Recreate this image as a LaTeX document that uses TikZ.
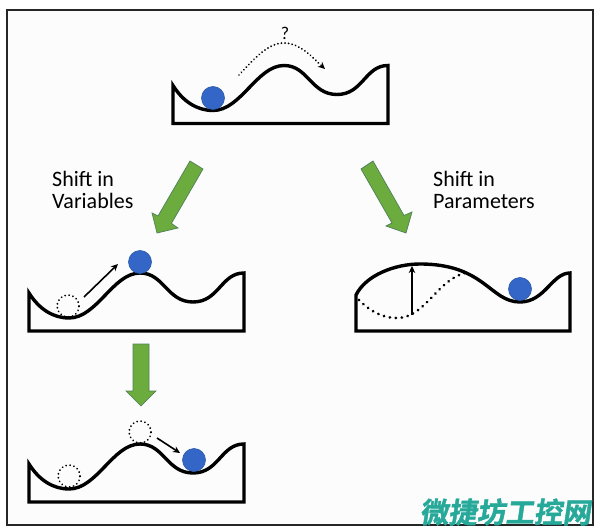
\documentclass[tikz,border=0pt]{standalone}
\usepackage{fontspec}
\setmainfont{Carlito}
\newfontfamily\cjkwm[FakeBold=1.5]{Noto Sans CJK SC Bold}
\usetikzlibrary{arrows.meta}
\definecolor{ballblue}{HTML}{3366C6}
\definecolor{balledge}{HTML}{2B5AA8}
\definecolor{arrowgreen}{HTML}{6CAC3E}
\definecolor{arrowedge}{HTML}{4F8058}
\definecolor{wmteal}{HTML}{27A99A}
\tikzset{
  x=1pt,y=-1pt,
  terrain/.style={draw=black,line width=3.4pt,line join=miter,fill=none},
  ballfull/.style={circle,draw=balledge,line width=0.6pt,fill=ballblue,minimum size=23pt,inner sep=0pt},
  ballghost/.style={circle,draw=black,line width=2pt,line cap=round,dash pattern=on 0.01pt off 4pt,fill=none,minimum size=22pt,inner sep=0pt},
  bigarrow/.style={draw=arrowedge,line width=0.7pt,fill=arrowgreen,line join=miter},
  thinarrow/.style={draw=black,line width=1.6pt,-{Stealth[length=7pt,width=6.5pt]}},
  dotline/.style={draw=black,line width=3pt,line cap=round,dash pattern=on 0.01pt off 6pt},
  dotarrow/.style={draw=black,line width=2pt,line cap=round,dash pattern=on 0.01pt off 3.6pt,-{Stealth[length=7pt,width=6.5pt]}},
  caption/.style={font=\fontsize{22}{22}\selectfont,align=left,anchor=north west,inner sep=0pt,text=black},
  pics/hill/.style={code={
    \draw[terrain] (0,-38) .. controls (10,-22) and (24,-13) .. (40,-13)
      .. controls (68,-13) and (84,-58) .. (111,-58)
      .. controls (135,-58) and (138,-29) .. (164,-29)
      .. controls (190,-29) and (192,-58) .. (215,-58)
      -- (215,0) -- (0,0) -- cycle;
  }}
}
\begin{document}
\begin{tikzpicture}
\useasboundingbox (0,0) rectangle (600,532);
\fill[white] (0,0) rectangle (600,532);
\draw[draw=black!85,fill=black!1!white,line width=1.4pt] (7,10) rectangle (593,525);

% top landscape
\pic at (173,123.5) {hill};
\node[ballfull] (b1) at (213,98) {};
\coordinate (q1) at (239,75);
\coordinate (q2) at (325,69);
\draw[dotarrow] (q1) .. controls (255,58) and (268,43) .. (284,43) .. controls (300,43) and (312,57) .. (q2);
\node[font=\fontsize{18}{18}\selectfont,inner sep=0pt] (q) at (285,33) {?};

% green arrows
\draw[bigarrow] (190,161) -- (203,169) -- (171.4,223.4) -- (178,228) -- (157,233) -- (152,213) -- (158,216) -- cycle;
\draw[bigarrow] (361,169) -- (373,161) -- (404,215.5) -- (412,212) -- (406,233) -- (386,226) -- (392,223) -- cycle;
\draw[bigarrow] (133,344) -- (149,344) -- (149,391) -- (156,391) -- (141,406) -- (126,391) -- (133,391) -- cycle;

\node[caption] (t1) at (52,171) {Shift in\\Variables};
\node[caption] (t2) at (433,171) {Shift in\\Parameters};

% middle left landscape
\pic at (29,331) {hill};
\node[ballfull] (b2) at (140,262) {};
\node[ballghost] (g2) at (68,306) {};
\coordinate (a2s) at (84,297);
\coordinate (a2e) at (118,264);
\draw[thinarrow] (a2s) -- (a2e);

% bottom left landscape
\pic at (29,502) {hill};
\node[ballghost] (g3) at (69,476) {};
\node[ballghost] (g4) at (140,432) {};
\node[ballfull] (b3) at (194,460) {};
\coordinate (a3s) at (157,438);
\coordinate (a3e) at (180,453);
\draw[thinarrow] (a3s) -- (a3e);

% right landscape
\draw[dotline] (359,300) .. controls (370,311) and (382,318) .. (397,318)
  .. controls (425,318) and (437,280) .. (465,273);
\draw[terrain] (356,295) .. controls (366,275) and (395,264) .. (420,264)
  .. controls (485,264) and (490,302) .. (520,302)
  .. controls (545,302) and (552,273) .. (570,273)
  -- (570,331) -- (356,331) -- cycle;
\node[ballfull] (b4) at (520,289) {};
\coordinate (a4s) at (412,315);
\coordinate (a4e) at (412,266);
\draw[thinarrow] (a4s) -- (a4e);

% watermark
\node[font=\cjkwm\fontsize{28.5}{30}\selectfont,text=wmteal,inner sep=0pt,anchor=center,xslant=0.15] (wm) at (507,512) {微捷坊工控网};
\end{tikzpicture}
\end{document}
